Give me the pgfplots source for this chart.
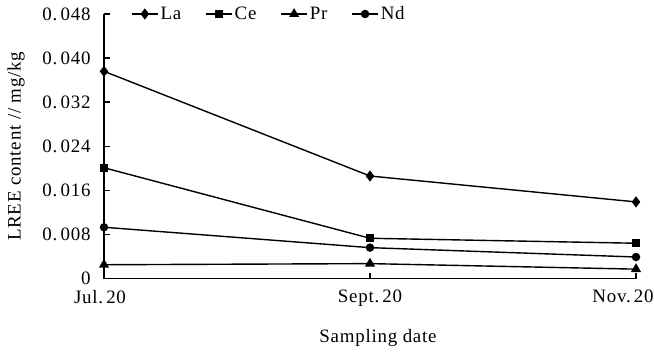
\documentclass[border=0pt]{standalone}
\usepackage{fontspec}
\setmainfont{Liberation Serif}[LetterSpace=4]
\usepackage{pgfplots}
\pgfplotsset{compat=1.18}
\begin{document}
\begin{tikzpicture}[x=1bp,y=1bp]
\path[use as bounding box] (-104,-72.5) rectangle (550,278.5);
\begin{axis}[
  at={(0,0)}, anchor=south west,
  scale only axis, width=532bp, height=264.5bp,
  font=\fontsize{19}{22}\selectfont,
  xmin=0, xmax=2, ymin=0, ymax=0.048,
  scaled y ticks=false,
  axis x line*=bottom, axis y line*=left,
  axis line style={-, line width=1.8bp},
  xtick={0,1,2},
  xticklabels={{\hspace*{-8bp}Jul.\,20}, Sept.\,20, {\hspace*{-26bp}Nov.\,20}},
  ytick={0,0.008,0.016,0.024,0.032,0.040,0.048},
  yticklabels={0, 0.\,008, 0.\,016, 0.\,024, 0.\,032, 0.\,040, 0.\,048},
  tick align=inside,
  major tick length=6bp,
  tick style={black, line width=1.5bp},
  xticklabel style={yshift=-8bp},
  yticklabel style={xshift=-10bp},
  xlabel={Sampling date},
  ylabel={LREE content // mg/kg},
  xlabel style={at={(axis description cs:0.515,-0.225)}, anchor=center},
  ylabel style={at={(axis description cs:-0.165,0.5)}, anchor=center},
  legend columns=-1,
  legend style={at={(axis description cs:0.045,1)}, anchor=west, draw=none, fill=none,
    /tikz/every even column/.append style={column sep=22bp}},
  legend image code/.code={\draw[mark repeat=2,mark phase=2,#1] plot coordinates {(0bp,0bp)(13bp,0bp)(26bp,0bp)};},
  every axis plot/.append style={black, line width=1.4bp, mark options={solid}},
  clip=false,
]
\addplot[mark=diamond*, mark size=4.5bp] coordinates {(0,0.0376) (1,0.0186) (2,0.0139)};
\addlegendentry{La}
\addplot[mark=square*, mark size=3.3bp] coordinates {(0,0.0201) (1,0.0073) (2,0.0064)};
\addlegendentry{Ce}
\addplot[mark=triangle*, mark size=4.5bp] coordinates {(0,0.0025) (1,0.0027) (2,0.0017)};
\addlegendentry{Pr}
\addplot[mark=*, mark size=3.5bp] coordinates {(0,0.0093) (1,0.0056) (2,0.0039)};
\addlegendentry{Nd}
\end{axis}
\end{tikzpicture}
\end{document}
